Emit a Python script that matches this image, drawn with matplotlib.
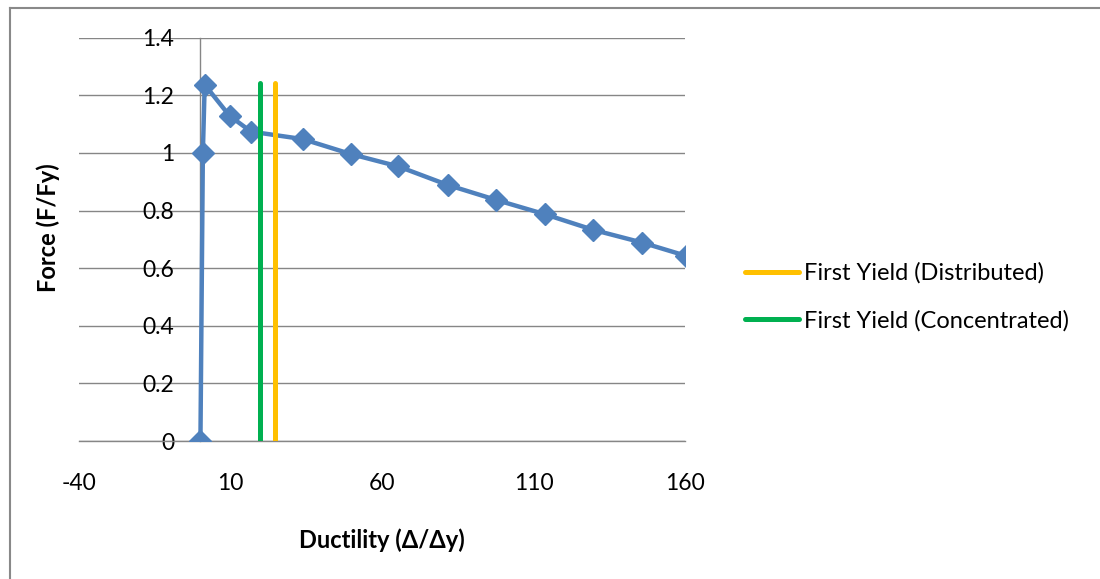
import matplotlib.pyplot as plt
from matplotlib.lines import Line2D

plt.rcParams['font.family'] = ['Lato', 'DejaVu Sans']
plt.rcParams['axes.unicode_minus'] = False

# Force-ductility curve
ductility = [0, 0.8, 1.4, 9.6, 16.7, 33.8, 49.7, 65.4, 81.6, 97.6, 113.8, 129.7, 145.8, 160.3]
force = [0, 1.0, 1.237, 1.129, 1.074, 1.048, 0.996, 0.953, 0.889, 0.837, 0.787, 0.733, 0.689, 0.643]

# First yield markers
yield_dist_x = [24.6, 24.6]
yield_conc_x = [19.7, 19.7]
yield_y = [0, 1.243]

xticks = [-40, 10, 60, 110, 160]
yticks = [0, 0.2, 0.4, 0.6, 0.8, 1, 1.2, 1.4]
ytick_labels = ['0', '0.2', '0.4', '0.6', '0.8', '1', '1.2', '1.4']

fig = plt.figure(figsize=(11, 5.79), dpi=100)
ax = fig.add_axes([0.0721, 0.2383, 0.6227 - 0.0721, 0.9349 - 0.2383])

ax.plot(ductility, force, color='#4F81BD', lw=3.2, marker='D', markersize=11, zorder=3)
ax.plot(yield_dist_x, yield_y, color='#FFC000', lw=3.6, solid_capstyle='round',
        label='First Yield (Distributed)', zorder=4)
ax.plot(yield_conc_x, yield_y, color='#00B050', lw=3.6, solid_capstyle='round',
        label='First Yield (Concentrated)', zorder=4)

ax.set_xlim(-40, 160)
ax.set_ylim(0, 1.4)
ax.set_xticks(xticks)
ax.set_yticks(yticks)
ax.set_yticklabels(ytick_labels)

ax.grid(axis='y', color='#868686', lw=1.0)
ax.set_axisbelow(True)
for s in ['top', 'right']:
    ax.spines[s].set_visible(False)
ax.spines['left'].set_position(('data', 0))
ax.spines['left'].set_color('#868686')
ax.spines['left'].set_linewidth(1.0)
ax.spines['bottom'].set_color('#868686')
ax.spines['bottom'].set_linewidth(1.0)

ax.tick_params(axis='y', length=0, pad=19, labelsize=16.5)
ax.tick_params(axis='x', length=0, pad=23, labelsize=16.5)

ax.set_xlabel('Ductility (\u0394/\u0394y)', fontsize=17, fontweight='bold')
ax.set_ylabel('Force (F/Fy)', fontsize=17, fontweight='bold')
ax.yaxis.set_label_coords(60 / 1100, 1 - 228 / 579, transform=fig.transFigure)
ax.xaxis.set_label_coords(382 / 1100, 1 - 528 / 579, transform=fig.transFigure)

leg = ax.legend(loc='center left', bbox_to_anchor=(745 / 1100, 1 - 297 / 579),
                bbox_transform=fig.transFigure, frameon=False, fontsize=17,
                handlelength=2.3, handletextpad=0.2, labelspacing=1.1,
                borderpad=0, borderaxespad=0)

# outer frame
fig.add_artist(Line2D([10 / 1100, 1], [1 - 8 / 579] * 2, color='#898989', lw=1.5,
                      transform=fig.transFigure))
fig.add_artist(Line2D([10 / 1100] * 2, [0, 1 - 8 / 579], color='#898989', lw=1.5,
                      transform=fig.transFigure))

fig.savefig('out.png', dpi=100)
